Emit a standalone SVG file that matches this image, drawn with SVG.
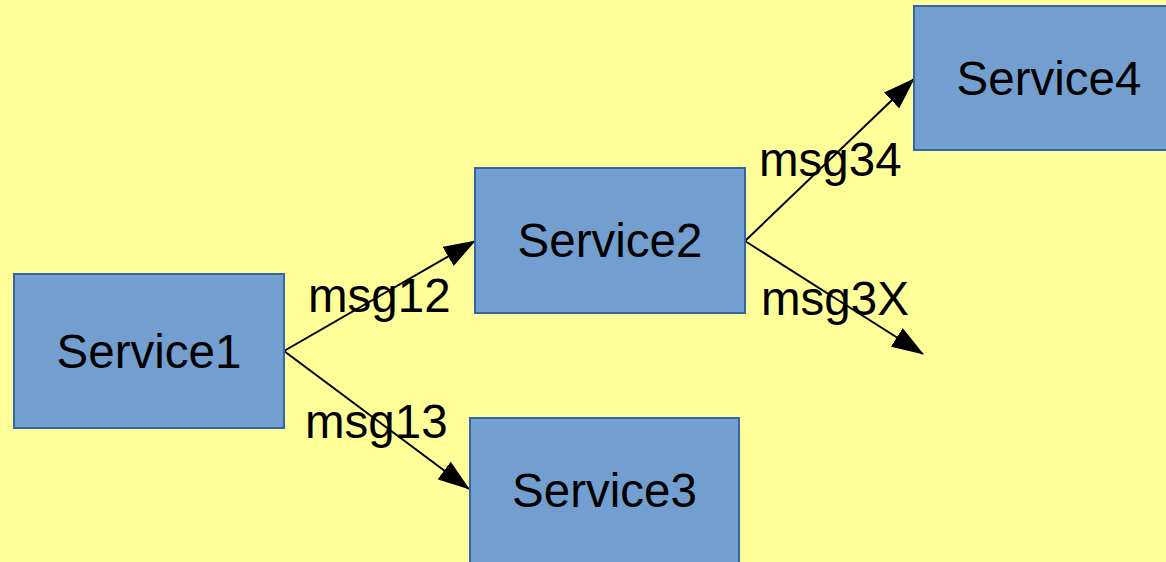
<svg xmlns="http://www.w3.org/2000/svg" width="1166" height="562" viewBox="0 0 1166 562">
<style>
.box{fill:#729fcf;stroke:#3465a4;stroke-width:2}
.t{font-family:"Liberation Sans",Arial,sans-serif;font-size:47.5px;fill:#000}
.c{text-anchor:middle}
.edge{stroke:#000;stroke-width:2;fill:none;marker-end:url(#ah)}
</style>
<defs>
<marker id="ah" viewBox="0 0 32 22" refX="31" refY="11" markerWidth="32" markerHeight="22" markerUnits="userSpaceOnUse" orient="auto">
<path d="M0,0 L32,11 L0,22 Z" fill="#000"/>
</marker>
</defs>
<rect width="1166" height="562" fill="#ffff99"/>
<g id="connectors">
<line class="edge" x1="284" y1="351" x2="475" y2="241"/>
<line class="edge" x1="284" y1="351" x2="469" y2="489"/>
<line class="edge" x1="745" y1="241" x2="914" y2="79"/>
<line class="edge" x1="745" y1="241" x2="923" y2="354"/>
<text class="t" x="308" y="312">msg12</text>
<text class="t" x="305" y="438">msg13</text>
<text class="t" x="759" y="176">msg34</text>
<text class="t" x="761" y="315">msg3X</text>
</g>
<g id="service1">
<rect class="box" x="14" y="274" width="270" height="154"/>
<text class="t c" x="149" y="368">Service1</text>
</g>
<g id="service2">
<rect class="box" x="475" y="168" width="270" height="145"/>
<text class="t c" x="610" y="257">Service2</text>
</g>
<g id="service3">
<rect class="box" x="470" y="418" width="269" height="150"/>
<text class="t c" x="604.5" y="507">Service3</text>
</g>
<g id="service4">
<rect class="box" x="914" y="6" width="270" height="144"/>
<text class="t c" x="1049" y="95">Service4</text>
</g>
</svg>
